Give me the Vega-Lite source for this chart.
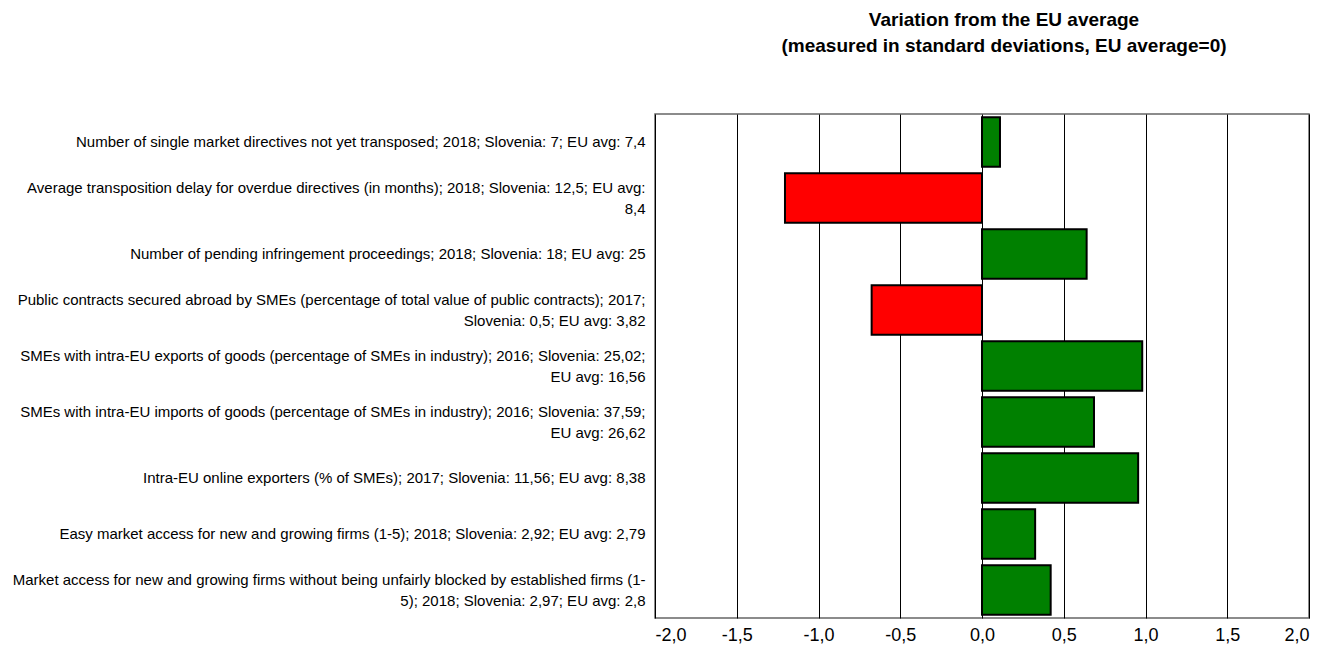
{
  "$schema": "https://vega.github.io/schema/vega-lite/v6.json",
  "autosize": "none",
  "width": 654,
  "height": 504,
  "padding": {"left": 655, "top": 114, "right": 19, "bottom": 34},
  "background": "white",
  "title": {
    "text": ["Variation from the EU average", "(measured in standard deviations, EU average=0)"],
    "font": "Liberation Sans",
    "fontSize": 19,
    "fontWeight": "bold",
    "lineHeight": 26,
    "anchor": "middle",
    "dx": 22,
    "offset": 58,
    "color": "black"
  },
  "config": {
    "view": {"stroke": "#666", "strokeWidth": 1.5},
    "axis": {"labelFont": "Liberation Sans", "labelColor": "black"}
  },
  "data": {
    "values": [
      {"indicator": "Number of single market directives not yet transposed; 2018; Slovenia: 7; EU avg: 7,4", "value": 0.11},
      {"indicator": "Average transposition delay for overdue directives (in months); 2018; Slovenia: 12,5; EU avg:|8,4", "value": -1.205},
      {"indicator": "Number of pending infringement proceedings; 2018; Slovenia: 18; EU avg: 25", "value": 0.64},
      {"indicator": "Public contracts secured abroad by SMEs (percentage of total value of public contracts); 2017;|Slovenia: 0,5; EU avg: 3,82", "value": -0.675},
      {"indicator": "SMEs with intra-EU exports of goods (percentage of SMEs in industry); 2016; Slovenia: 25,02;|EU avg: 16,56", "value": 0.98},
      {"indicator": "SMEs with intra-EU imports of goods (percentage of SMEs in industry); 2016; Slovenia: 37,59;|EU avg: 26,62", "value": 0.685},
      {"indicator": "Intra-EU online exporters (% of SMEs); 2017; Slovenia: 11,56; EU avg: 8,38", "value": 0.955},
      {"indicator": "Easy market access for new and growing firms (1-5); 2018; Slovenia: 2,92; EU avg: 2,79", "value": 0.325},
      {"indicator": "Market access for new and growing firms without being unfairly blocked by established firms (1-|5); 2018; Slovenia: 2,97; EU avg: 2,8", "value": 0.42}
    ]
  },
  "mark": {"type": "bar", "stroke": "black", "strokeWidth": 2},
  "encoding": {
    "y": {
      "field": "indicator",
      "type": "nominal",
      "sort": null,
      "scale": {"paddingInner": 0.12, "paddingOuter": 0.06},
      "axis": {
        "title": null,
        "domain": false,
        "ticks": false,
        "labelExpr": "split(datum.label, '|')",
        "labelFontSize": 15,
        "labelLineHeight": 21,
        "labelPadding": 10,
        "labelLimit": 700,
        "labelAlign": "right",
        "labelOffset": {"condition": {"test": "indexof(datum.label, '|') >= 0", "value": -10}, "value": 0}
      }
    },
    "x": {
      "field": "value",
      "type": "quantitative",
      "scale": {"domain": [-2, 2], "nice": false},
      "axis": {
        "title": null,
        "values": [-2, -1.5, -1, -0.5, 0, 0.5, 1, 1.5, 2],
        "labelExpr": "replace(replace(format(datum.value, '.1f'), '.', ','), '\u2212', '-')",
        "labelFontSize": 18,
        "labelPadding": 8,
        "ticks": false,
        "domain": false,
        "grid": true,
        "gridColor": "black",
        "gridOpacity": 1,
        "gridWidth": 1
      }
    },
    "color": {
      "condition": {"test": "datum.value < 0", "value": "#ff0000"},
      "value": "#008000"
    }
  }
}
